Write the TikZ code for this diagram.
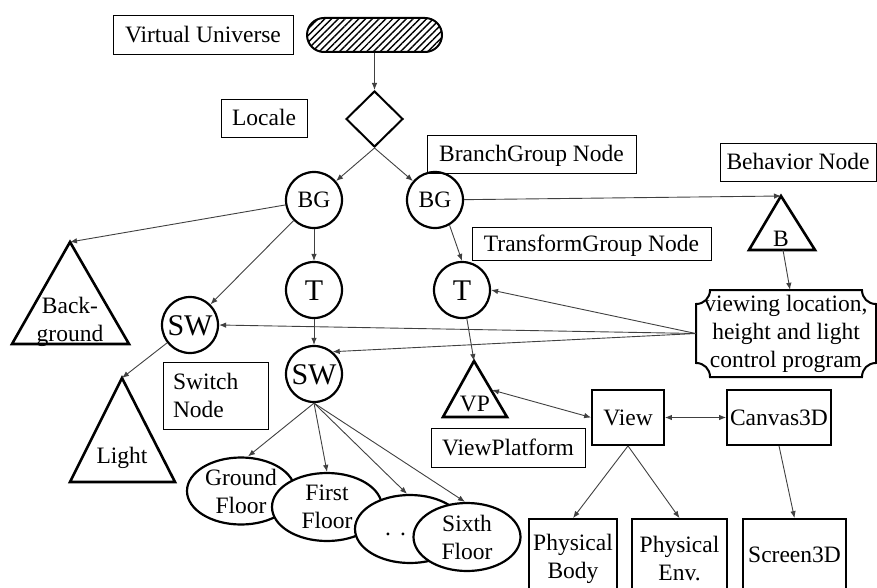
\documentclass[tikz,border=0pt]{standalone}
\usepackage{fontspec}
\setmainfont{Liberation Serif}
\usetikzlibrary{shapes.geometric,arrows.meta,patterns.meta,calc}
\newcommand\mainsz{\fontsize{23.5}{28}\selectfont}
\newcommand\bigsz{\fontsize{30}{34}\selectfont}
\begin{document}
\begin{tikzpicture}[x=1pt,y=-1pt,
  lbl/.style={draw, line width=0.8pt, inner sep=0pt, font=\mainsz, text height=15.5pt, text depth=0pt},
  circ/.style={draw, circle, line width=2.2pt, minimum size=56, inner sep=0pt, font=\mainsz, text height=15.5pt, text depth=0pt},
  bigcirc/.style={circ, font=\bigsz, text height=20pt},
  tbox/.style={draw, line width=1.8pt, inner sep=0pt, font=\mainsz},
  ell/.style={draw, ellipse, line width=2.2pt, fill=white, inner sep=0pt, font=\mainsz, align=center},
  tri/.style={draw, line width=2.6pt, line join=miter},
  tlabel/.style={font=\mainsz, inner sep=0pt, align=center},
  conn/.style={draw=black!75, line width=0.9pt, -{Latex[length=7pt,width=5.5pt]}},
  dconn/.style={draw=black!75, line width=0.9pt, {Latex[length=7pt,width=5.5pt]}-{Latex[length=7pt,width=5.5pt]}}
]
\useasboundingbox (0,0) rectangle (877,588);
\clip (0,0) rectangle (877,588);

% top
\node[lbl, minimum width=180, minimum height=39] (vulbl) at (203,34.5) {Virtual Universe};
\node[draw, line width=2pt, rounded corners=17pt, minimum width=135, minimum height=34,
      pattern={Lines[angle=45,distance=4.8pt,line width=1.4pt]}] (vu) at (374.5,35) {};
\node[draw, diamond, line width=2pt, minimum width=57, minimum height=56, inner sep=0pt] (loc) at (374.5,119) {};
\node[lbl, minimum width=86, minimum height=38] (loclbl) at (264,118) {Locale};

% circles
\node[circ] (bg1) at (314,200) {BG};
\node[circ] (bg2) at (435,200) {BG};
\node[bigcirc] (t1) at (314,290) {T};
\node[bigcirc] (t2) at (462,290) {T};
\node[bigcirc] (sw1) at (190,325) {SW};
\node[bigcirc] (sw2) at (314,374) {SW};

% labels
\node[lbl, minimum width=209, minimum height=38] (bglbl) at (531.5,154) {BranchGroup Node};
\node[lbl, minimum width=156, minimum height=38] (behlbl) at (798,162) {Behavior Node};
\node[lbl, minimum width=239, minimum height=33] (tglbl) at (591.5,243.5) {TransformGroup Node};
\node[draw, line width=0.8pt, font=\mainsz, align=left, text width=85pt, inner xsep=10pt, inner ysep=0pt,
      minimum height=67] (swlbl) at (215.5,395.5) {Switch\\Node};
\node[lbl, minimum width=154, minimum height=39] (vplbl) at (508,447.5) {ViewPlatform};

% triangles
\coordinate (bgapex) at (70,242);
\draw[tri] (bgapex) -- (12,344) -- (129,344) -- cycle;
\node[tlabel] (bgtext) at (70,321.5) {Back-\\ground};
\coordinate (lightapex) at (122,378);
\draw[tri] (lightapex) -- (70,482) -- (175,482) -- cycle;
\node[tlabel, text height=15.5pt, text depth=0pt] (lighttext) at (122,455.5) {Light};
\coordinate (bapex) at (781,196);
\coordinate (bbase) at (783,250);
\draw[tri] (bapex) -- (749,250) -- (815,250) -- cycle;
\node[tlabel, text height=15.5pt, text depth=0pt] (btext) at (781,239) {B};
\coordinate (vpapex) at (474,361);
\coordinate (vpside) at (492,390);
\draw[tri] (vpapex) -- (443,417) -- (507,417) -- cycle;
\node[tlabel, text height=15.5pt, text depth=0pt] (vptext) at (475,403.5) {VP};

% scroll
\node[tlabel, minimum width=180, minimum height=87] (scroll) at (786,333.5) {viewing location,\\height and light\\control program};
\draw[line width=2pt] (710,290) -- (862,290) .. controls (862,298) and (868,304) .. (876,304)
  -- (876,363) .. controls (868,363) and (862,369) .. (862,377)
  -- (710,377) .. controls (710,369) and (704,363) .. (696,363)
  -- (696,304) .. controls (704,304) and (710,298) .. (710,290) -- cycle;

% view side
\node[tbox, minimum width=72, minimum height=55, text height=15.5pt, text depth=0pt] (view) at (628,417.5) {View};
\node[tbox, minimum width=104, minimum height=55, text height=15.5pt, text depth=0pt] (canvas) at (779,417.5) {Canvas3D};
\node[tbox, align=center, minimum width=88, minimum height=79] (body) at (573,558.5) {Physical\\Body};
\node[tbox, align=center, minimum width=95, minimum height=79] (env) at (679.5,558.5) {Physical\\Env.};
\node[tbox, minimum width=103, minimum height=72, text height=15.5pt, text depth=0pt] (screen) at (794.5,555) {Screen3D};

% ellipses
\node[ell, minimum width=108, minimum height=67] (ground) at (241,491) {Ground\\Floor};
\node[ell, minimum width=110, minimum height=68] (first) at (327,507) {First\\Floor};
\node[ell, minimum width=110, minimum height=68] (dots) at (410,529) {};
\node[tlabel, anchor=base] (dotstext) at (403,535) {.\hspace{9pt}.\hspace{9pt}.};
\node[ell, minimum width=107, minimum height=68] (sixth) at (467,537) {Sixth\\Floor};

% connectors
\draw[conn] (vu) -- (loc);
\draw[conn] (loc.south) -- (bg1);
\draw[conn] (loc.south) -- (bg2);
\draw[conn] (bg1) -- (t1);
\draw[conn] (t1) -- (sw2);
\draw[conn] (bg1) -- (bgapex);
\draw[conn] (bg1) -- (sw1);
\draw[conn] (sw1) -- (lightapex);
\draw[conn] (bg2) -- (bapex);
\draw[conn] (bg2.-60) -- (t2.north);
\draw[conn] (bbase) -- ([xshift=4pt]scroll.north);
\draw[conn] (scroll.west) -- (t2.east);
\draw[conn] (scroll.west) -- (sw1.east);
\draw[conn] (scroll.west) -- (sw2.50);
\draw[conn] (t2) -- (vpapex);
\draw[dconn] (vpside) -- (view.west);
\draw[dconn] (view.east) -- (canvas.west);
\draw[conn] (view.south) -- (body.north);
\draw[conn] (view.south) -- (env.north);
\draw[conn] (canvas.south) -- (screen.north);
\draw[conn] (sw2.south) -- ([xshift=7pt]ground.north);
\draw[conn] (sw2.south) -- (first.north);
\draw[conn] (sw2.south) -- ([xshift=-3pt]dots.north);
\draw[conn] (sw2.south) -- ([xshift=-2pt]sixth.north);
\end{tikzpicture}
\end{document}
